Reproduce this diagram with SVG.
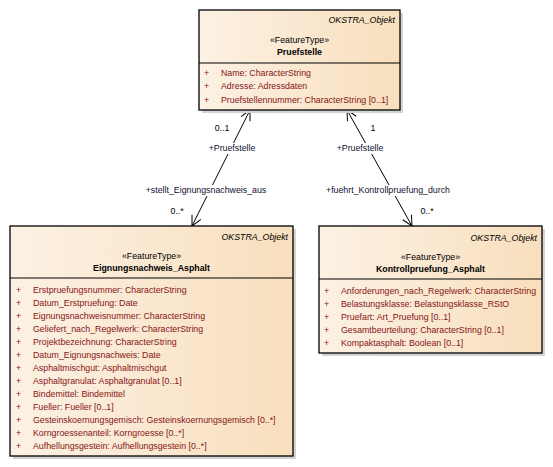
<svg xmlns="http://www.w3.org/2000/svg" width="553" height="467" viewBox="0 0 553 467">
<style>
text{font-family:"Liberation Sans",Arial,sans-serif;font-size:8.8px;fill:#000}
.hdr{font-style:italic;text-anchor:end}
.st{text-anchor:middle}
.nm{text-anchor:middle;font-weight:bold}
.at{fill:#861414}
.box{stroke:#000;stroke-width:1.3;fill:url(#g)}
.sh{fill:#D4D4D4}
.div{stroke:#000;stroke-width:1}
.ln{stroke:#000;stroke-width:1;fill:none}
.role{fill:#101030}
.bg{fill:#fff}
</style>
<defs>
<linearGradient id="g" x1="0" y1="0" x2="1" y2="0">
<stop offset="0" stop-color="#FCF1E4"/>
<stop offset="1" stop-color="#F8DFBD"/>
</linearGradient>
<marker id="a" viewBox="0 0 12 12" refX="11" refY="6" markerWidth="12" markerHeight="12" markerUnits="userSpaceOnUse" orient="auto-start-reverse">
<path d="M1,1 L11,6 L1,11" fill="none" stroke="#000" stroke-width="1"/>
</marker>
</defs>
<g id="connectors">
<line class="ln" x1="192" y1="226" x2="250" y2="110" marker-start="url(#a)" marker-end="url(#a)"/>
<rect class="bg" x="208" y="143" width="48" height="11"/>
<rect class="bg" x="145" y="185" width="123" height="11"/>
<text x="222" y="131" class="st">0..1</text>
<text x="232" y="151" class="st role">+Pruefstelle</text>
<text x="206" y="193" class="st role">+stellt_Eignungsnachweis_aus</text>
<text x="177" y="214" class="st">0..*</text>
<line class="ln" x1="412" y1="226" x2="347" y2="110" marker-start="url(#a)" marker-end="url(#a)"/>
<rect class="bg" x="336" y="143" width="48" height="11"/>
<rect class="bg" x="323" y="185" width="131" height="11"/>
<text x="373" y="131" class="st">1</text>
<text x="360" y="151" class="st role">+Pruefstelle</text>
<text x="388" y="193" class="st role">+fuehrt_Kontrollpruefung_durch</text>
<text x="427" y="214" class="st">0..*</text>
</g>
<g id="Pruefstelle">
<rect class="sh" x="202" y="13" width="201" height="100"/>
<rect class="box" x="199" y="10" width="201" height="100"/>
<line class="div" x1="199" y1="63" x2="400" y2="63"/>
<text x="395" y="23" class="hdr">OKSTRA_Objekt</text>
<text x="299.5" y="43" class="st">«FeatureType»</text>
<text x="299.5" y="55" class="nm">Pruefstelle</text>
<text x="204" y="76" class="at">+</text><text x="221" y="76" class="at">Name: CharacterString</text>
<text x="204" y="89" class="at">+</text><text x="221" y="89" class="at">Adresse: Adressdaten</text>
<text x="204" y="103" class="at">+</text><text x="221" y="103" class="at">Pruefstellennummer: CharacterString [0..1]</text>
</g>
<g id="Eignungsnachweis_Asphalt">
<rect class="sh" x="13" y="229" width="283" height="230"/>
<rect class="box" x="10" y="226" width="283" height="230"/>
<line class="div" x1="10" y1="278" x2="293" y2="278"/>
<text x="288" y="240" class="hdr">OKSTRA_Objekt</text>
<text x="151.5" y="259" class="st">«FeatureType»</text>
<text x="151.5" y="271" class="nm">Eignungsnachweis_Asphalt</text>
<text x="16" y="293" class="at">+</text><text x="33" y="293" class="at">Erstpruefungsnummer: CharacterString</text>
<text x="16" y="306" class="at">+</text><text x="33" y="306" class="at">Datum_Erstpruefung: Date</text>
<text x="16" y="319" class="at">+</text><text x="33" y="319" class="at">Eignungsnachweisnummer: CharacterString</text>
<text x="16" y="332" class="at">+</text><text x="33" y="332" class="at">Geliefert_nach_Regelwerk: CharacterString</text>
<text x="16" y="345" class="at">+</text><text x="33" y="345" class="at">Projektbezeichnung: CharacterString</text>
<text x="16" y="358" class="at">+</text><text x="33" y="358" class="at">Datum_Eignungsnachweis: Date</text>
<text x="16" y="371" class="at">+</text><text x="33" y="371" class="at">Asphaltmischgut: Asphaltmischgut</text>
<text x="16" y="384" class="at">+</text><text x="33" y="384" class="at">Asphaltgranulat: Asphaltgranulat [0..1]</text>
<text x="16" y="397" class="at">+</text><text x="33" y="397" class="at">Bindemittel: Bindemittel</text>
<text x="16" y="410" class="at">+</text><text x="33" y="410" class="at">Fueller: Fueller [0..1]</text>
<text x="16" y="423" class="at">+</text><text x="33" y="423" class="at">Gesteinskoernungsgemisch: Gesteinskoernungsgemisch [0..*]</text>
<text x="16" y="436" class="at">+</text><text x="33" y="436" class="at">Korngroessenanteil: Korngroesse [0..*]</text>
<text x="16" y="449" class="at">+</text><text x="33" y="449" class="at">Aufhellungsgestein: Aufhellungsgestein [0..*]</text>
</g>
<g id="Kontrollpruefung_Asphalt">
<rect class="sh" x="322" y="229" width="223" height="127"/>
<rect class="box" x="319" y="226" width="223" height="127"/>
<line class="div" x1="319" y1="279" x2="542" y2="279"/>
<text x="537" y="241" class="hdr">OKSTRA_Objekt</text>
<text x="430.5" y="260" class="st">«FeatureType»</text>
<text x="430.5" y="272" class="nm">Kontrollpruefung_Asphalt</text>
<text x="324" y="294" class="at">+</text><text x="341" y="294" class="at">Anforderungen_nach_Regelwerk: CharacterString</text>
<text x="324" y="307" class="at">+</text><text x="341" y="307" class="at">Belastungsklasse: Belastungsklasse_RStO</text>
<text x="324" y="320" class="at">+</text><text x="341" y="320" class="at">Pruefart: Art_Pruefung [0..1]</text>
<text x="324" y="333" class="at">+</text><text x="341" y="333" class="at">Gesamtbeurteilung: CharacterString [0..1]</text>
<text x="324" y="346" class="at">+</text><text x="341" y="346" class="at">Kompaktasphalt: Boolean [0..1]</text>
</g>
</svg>
